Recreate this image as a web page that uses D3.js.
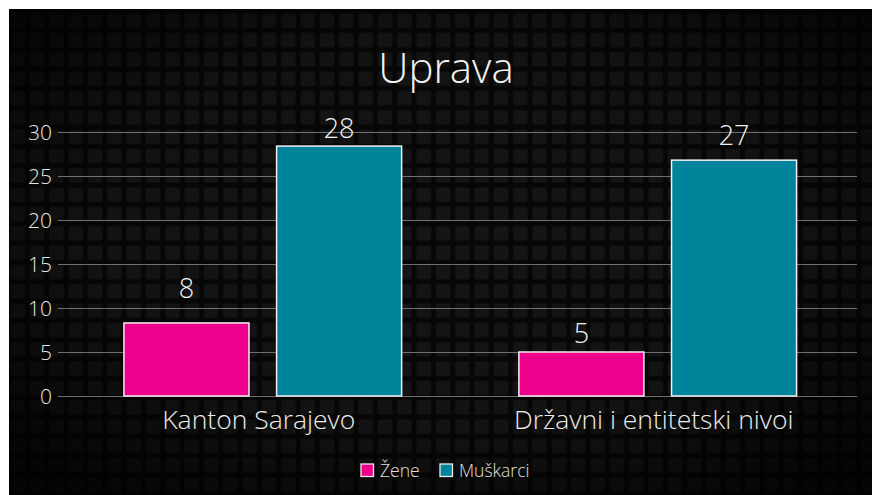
<!DOCTYPE html>
<html>
<head>
<meta charset="utf-8">
<script src="https://cdn.jsdelivr.net/npm/d3@7"></script>
<style>
  html, body { margin: 0; padding: 0; background: #fff; overflow: hidden; }
  svg { position: absolute; left: 9px; top: 9px; font-family: 'Open Sans', sans-serif; }
</style>
</head>
<body>
<svg id="chart" width="872" height="495"></svg>
<script>
const title = 'Uprava';
const categories = ['Kanton Sarajevo', 'Državni i entitetski nivoi'];
const seriesNames = ['Žene', 'Muškarci'];
const zene = [8.3, 5];
const muskarci = [28.4, 26.8];
const yTicks = [0, 5, 10, 15, 20, 25, 30];
const colors = ['#ec008c', '#00849c'];

const data = categories.map((c, i) => ({
  category: c,
  values: [
    { key: seriesNames[0], value: zene[i], row: i, col: 0 },
    { key: seriesNames[1], value: muskarci[i], row: i, col: 1 },
  ],
}));

// value labels are nudged by the original library to avoid collisions
const labelLift = [[25, 8], [9, 15]];

const svg = d3.select('#chart');
const width = 872, height = 495;

// background: dark tiled pattern with a vignette
const defs = svg.append('defs');
const pat = defs.append('pattern')
  .attr('id', 'tiles')
  .attr('patternUnits', 'userSpaceOnUse')
  .attr('x', 1).attr('y', 4)
  .attr('width', 19.33).attr('height', 19.33);
pat.append('rect').attr('width', 19.33).attr('height', 19.33).attr('fill', '#070707');
pat.append('rect').attr('x', 0.5).attr('y', 0.5).attr('width', 14.5).attr('height', 14.5)
  .attr('rx', 2).attr('fill', '#151515');

const vig = defs.append('radialGradient').attr('id', 'vig')
  .attr('cx', '50%').attr('cy', '45%').attr('r', '65%');
vig.append('stop').attr('offset', '0%').attr('stop-color', '#000').attr('stop-opacity', 0);
vig.append('stop').attr('offset', '60%').attr('stop-color', '#000').attr('stop-opacity', 0.1);
vig.append('stop').attr('offset', '100%').attr('stop-color', '#000').attr('stop-opacity', 0.75);

svg.append('rect').attr('width', width).attr('height', height).attr('fill', 'url(#tiles)');
svg.append('rect').attr('width', width).attr('height', height).attr('fill', 'url(#vig)');

// scales
const y = d3.scaleLinear().domain([0, 30]).range([387, 123]);
const x0 = d3.scaleBand().domain(categories).range([56.3, 846.2]);
const x1 = d3.scaleBand().domain(seriesNames).range([0, x0.bandwidth()])
  .paddingInner(0.181).paddingOuter(0.384);
const color = d3.scaleOrdinal().domain(seriesNames).range(colors);

// title
svg.append('text')
  .attr('x', 437).attr('y', 74)
  .attr('text-anchor', 'middle')
  .attr('fill', '#f2f2f2')
  .attr('font-size', 42)
  .attr('font-weight', 300)
  .text(title);

// y grid + labels
const yAxis = svg.append('g').attr('class', 'y-axis');
yAxis.selectAll('line')
  .data(yTicks)
  .join('line')
  .attr('x1', 49).attr('x2', 848)
  .attr('y1', (d) => Math.round(y(d)) + 0.5)
  .attr('y2', (d) => Math.round(y(d)) + 0.5)
  .attr('stroke', '#707070')
  .attr('stroke-width', 1.2);
yAxis.selectAll('text')
  .data(yTicks)
  .join('text')
  .attr('x', 43)
  .attr('y', (d) => y(d))
  .attr('dy', '0.36em')
  .attr('text-anchor', 'end')
  .attr('fill', '#e6e6e6')
  .attr('font-size', 21)
  .attr('font-weight', 300)
  .text((d) => d);

// bars
const groups = svg.selectAll('g.group')
  .data(data)
  .join('g')
  .attr('class', 'group')
  .attr('transform', (d) => `translate(${x0(d.category)},0)`);

groups.selectAll('rect')
  .data((d) => d.values)
  .join('rect')
  .attr('x', (d) => x1(d.key))
  .attr('y', (d) => y(d.value))
  .attr('width', x1.bandwidth())
  .attr('height', (d) => y(0) - y(d.value))
  .attr('fill', (d) => color(d.key))
  .attr('stroke', '#f4eef0')
  .attr('stroke-width', 1.5);

groups.selectAll('text.value')
  .data((d) => d.values)
  .join('text')
  .attr('class', 'value')
  .attr('x', (d) => x1(d.key) + x1.bandwidth() / 2)
  .attr('y', (d) => y(d.value) - labelLift[d.row][d.col])
  .attr('text-anchor', 'middle')
  .attr('fill', '#f2f2f2')
  .attr('font-size', 27)
  .attr('font-weight', 300)
  .text((d) => Math.round(d.value));

// category labels
svg.selectAll('text.cat')
  .data(categories)
  .join('text')
  .attr('class', 'cat')
  .attr('x', (d) => x0(d) + x0.bandwidth() / 2 - 4)
  .attr('y', 420)
  .attr('text-anchor', 'middle')
  .attr('fill', '#ececec')
  .attr('font-size', 26.5)
  .attr('font-weight', 300)
  .text((d) => d);

// legend
const legend = svg.append('g').attr('transform', 'translate(352,455)');
const legendX = [0, 79];
const items = legend.selectAll('g')
  .data(seriesNames)
  .join('g')
  .attr('transform', (d, i) => `translate(${legendX[i]},0)`);
items.append('rect')
  .attr('width', 12.5).attr('height', 12.5)
  .attr('fill', (d) => color(d))
  .attr('stroke', '#f0e8ec').attr('stroke-width', 1.3);
items.append('text')
  .attr('x', 19).attr('y', 12.5)
  .attr('fill', '#e0e0e0')
  .attr('font-size', 17.5)
  .attr('font-weight', 300)
  .text((d) => d);
</script>
</body>
</html>
